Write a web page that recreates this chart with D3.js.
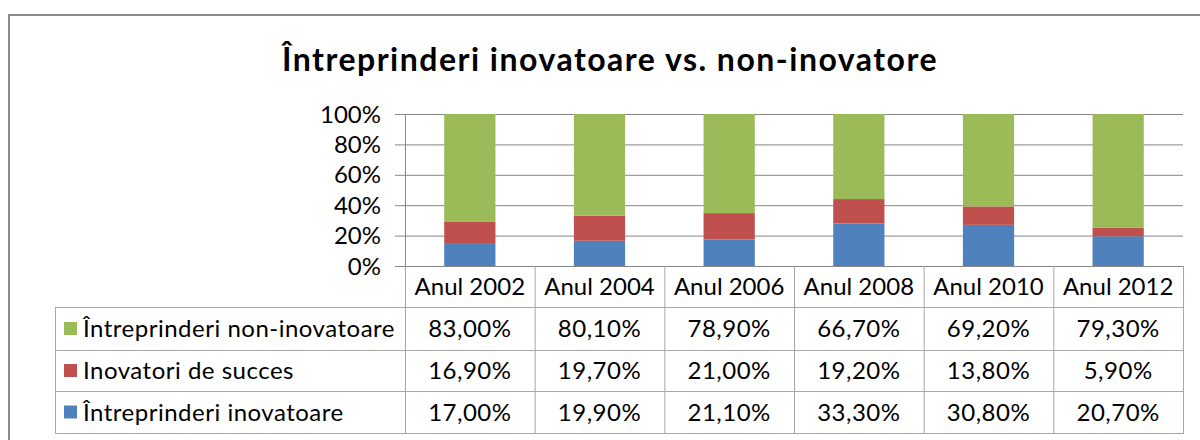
<!DOCTYPE html>
<html><head><meta charset="utf-8">
<script src="https://cdn.jsdelivr.net/npm/d3@7"></script>
<style>
html,body{margin:0;padding:0;background:#fff;}
svg{display:block;font-family:Lato,"Open Sans",sans-serif;}
</style></head>
<body><svg id="c" width="1200" height="440"></svg>
<script>
const title = "Întreprinderi inovatoare vs. non-inovatore";
const categories = ["Anul 2002","Anul 2004","Anul 2006","Anul 2008","Anul 2010","Anul 2012"];
const seriesNames = ["Întreprinderi non-inovatoare","Inovatori de succes","Întreprinderi inovatoare"];
const nonInovatoare = [83.00, 80.10, 78.90, 66.70, 69.20, 79.30];
const inovatoriSucces = [16.90, 19.70, 21.00, 19.20, 13.80, 5.90];
const inovatoare = [17.00, 19.90, 21.10, 33.30, 30.80, 20.70];
const yTicks = [0, 0.2, 0.4, 0.6, 0.8, 1.0];
const colors = {"Întreprinderi non-inovatoare":"#9BBB59","Inovatori de succes":"#C0504D","Întreprinderi inovatoare":"#4F81BD"};

const svg = d3.select("#c");
// outer frame
svg.append("path").attr("d","M9,441 V15 H1201").attr("fill","none").attr("stroke","#8a8a8a").attr("stroke-width",2);

svg.append("text").attr("x",610).attr("y",71).attr("text-anchor","middle")
  .attr("font-size",32).attr("font-weight","bold").attr("letter-spacing",1.5).attr("fill","#000").text(title);

const rows = categories.map((c,i)=>({cat:c,
  "Întreprinderi non-inovatoare":nonInovatoare[i],
  "Inovatori de succes":inovatoriSucces[i],
  "Întreprinderi inovatoare":inovatoare[i]}));
const stackKeys = [seriesNames[2], seriesNames[1], seriesNames[0]];
const stacked = d3.stack().keys(stackKeys).offset(d3.stackOffsetExpand)(rows);

const x = d3.scaleBand().domain(categories).range([405,1183]).paddingInner(0.605).paddingOuter(0.3025);
const xCol = d3.scaleBand().domain(categories).range([405,1183]);
const y = d3.scaleLinear().domain([0,1]).range([266,114]);

// gridlines
svg.append("g").selectAll("line").data(yTicks).join("line")
  .attr("x1",395).attr("x2",1183).attr("y1",d=>y(d)+0.5).attr("y2",d=>y(d)+0.5)
  .attr("stroke","#868686").attr("stroke-width",1);
// y axis line
svg.append("line").attr("x1",405.5).attr("x2",405.5).attr("y1",114).attr("y2",266).attr("stroke","#868686");
svg.append("g").selectAll("text").data(yTicks).join("text")
  .attr("x",381).attr("y",d=>y(d)).attr("dy","0.36em").attr("text-anchor","end")
  .attr("font-size",24).attr("fill","#000").text(d=>d3.format(".0%")(d));

// bars
svg.append("g").selectAll("g").data(stacked).join("g").attr("fill",d=>colors[d.key])
  .selectAll("rect").data(d=>d).join("rect")
  .attr("x",d=>x(d.data.cat)).attr("width",x.bandwidth())
  .attr("y",d=>y(d[1])).attr("height",d=>y(d[0])-y(d[1]));

// data table
const tbl = svg.append("g");
const lineC = "#a6a6a6";
const rowTop = [266,307,350,391,433];
tbl.append("line").attr("x1",405).attr("x2",1183).attr("y1",266.5).attr("y2",266.5).attr("stroke","#868686");
rowTop.slice(1).forEach(yy=>{
  tbl.append("line").attr("x1",55).attr("x2",1184).attr("y1",yy+0.5).attr("y2",yy+0.5).attr("stroke",lineC);
});
tbl.append("line").attr("x1",55.5).attr("x2",55.5).attr("y1",307).attr("y2",433).attr("stroke",lineC);
categories.forEach(c=>{
  tbl.append("line").attr("x1",xCol(c)+0.5).attr("x2",xCol(c)+0.5).attr("y1",266).attr("y2",433).attr("stroke",lineC);
});
tbl.append("line").attr("x1",1183.5).attr("x2",1183.5).attr("y1",266).attr("y2",433).attr("stroke",lineC);

tbl.selectAll("text.h").data(categories).join("text").attr("class","h")
  .attr("x",c=>xCol(c)+xCol.bandwidth()/2).attr("y",(rowTop[0]+rowTop[1])/2).attr("dy","0.36em")
  .attr("text-anchor","middle").attr("font-size",24).attr("fill","#000").text(c=>c);

const fmt = v => d3.format(".2f")(v).replace(".",",")+"%";
const tableSeries = [
  {name:seriesNames[0], vals:nonInovatoare},
  {name:seriesNames[1], vals:inovatoriSucces},
  {name:seriesNames[2], vals:inovatoare}];
tableSeries.forEach((s,r)=>{
  const cy = (rowTop[r+1]+rowTop[r+2])/2;
  tbl.append("rect").attr("x",64).attr("y",cy-6.5).attr("width",13).attr("height",13).attr("fill",colors[s.name]);
  tbl.append("text").attr("x",83).attr("y",cy).attr("dy","0.36em").attr("font-size",24).attr("letter-spacing",0.5).attr("fill","#000").text(s.name);
  s.vals.forEach((v,i)=>{
    tbl.append("text").attr("x",xCol(categories[i])+xCol.bandwidth()/2).attr("y",cy).attr("dy","0.36em")
      .attr("text-anchor","middle").attr("font-size",24).attr("letter-spacing",0.5).attr("fill","#000").text(fmt(v));
  });
});
</script></body></html>
